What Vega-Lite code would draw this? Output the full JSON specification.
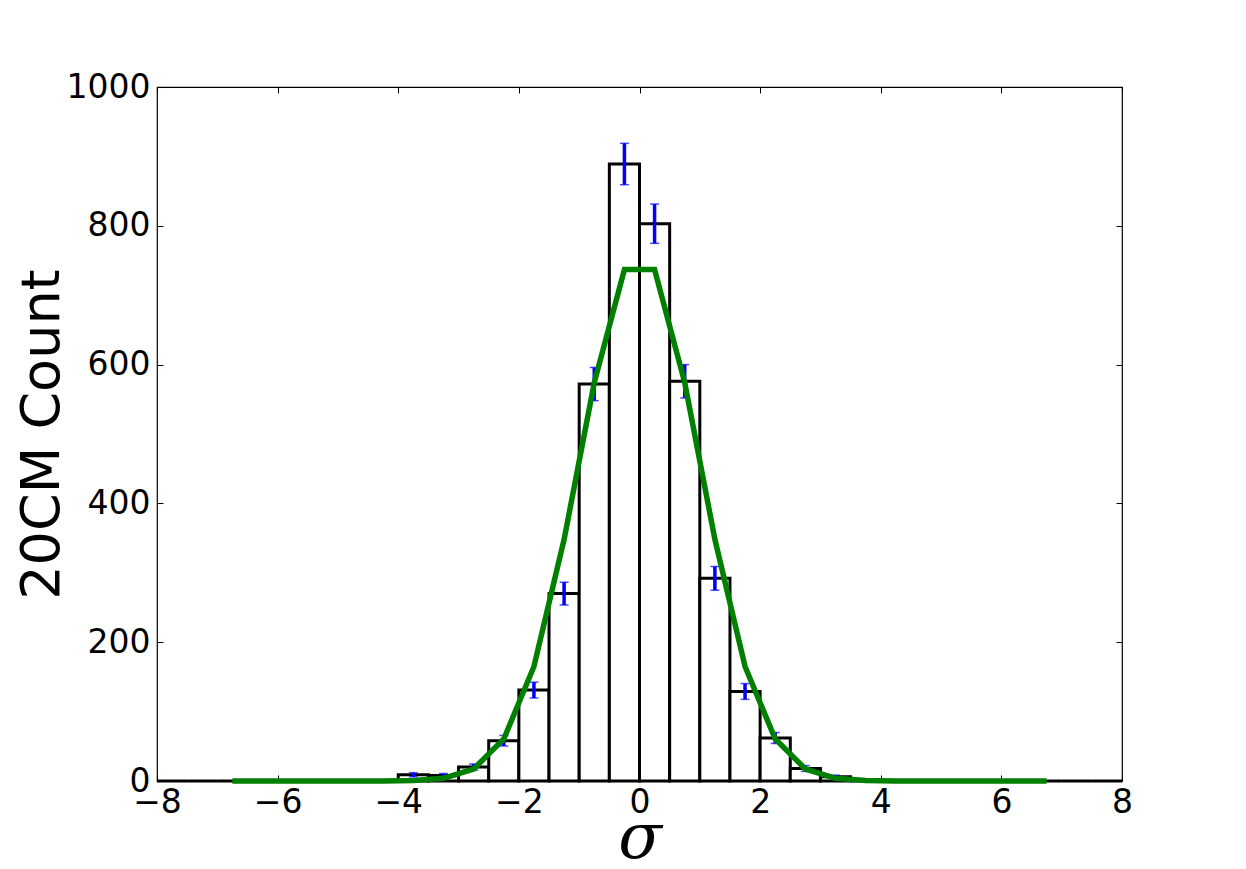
{
  "$schema": "https://vega.github.io/schema/vega-lite/v6.json",
  "width": 965,
  "height": 694,
  "autosize": "none",
  "padding": {"left": 157, "top": 87, "right": 124, "bottom": 88},
  "background": "white",
  "config": {
    "view": {"stroke": "black", "strokeWidth": 1.2},
    "axis": {"grid": false, "domain": false, "tickColor": "black", "tickWidth": 1, "labelColor": "black", "titleColor": "black"}
  },
  "datasets": {
    "bins": [
      {"start": -8.0, "end": -7.5, "count": 0},
      {"start": -7.5, "end": -7.0, "count": 0},
      {"start": -7.0, "end": -6.5, "count": 0},
      {"start": -6.5, "end": -6.0, "count": 0},
      {"start": -6.0, "end": -5.5, "count": 0},
      {"start": -5.5, "end": -5.0, "count": 0},
      {"start": -5.0, "end": -4.5, "count": 0},
      {"start": -4.5, "end": -4.0, "count": 0},
      {"start": -4.0, "end": -3.5, "count": 9},
      {"start": -3.5, "end": -3.0, "count": 8},
      {"start": -3.0, "end": -2.5, "count": 20},
      {"start": -2.5, "end": -2.0, "count": 58},
      {"start": -2.0, "end": -1.5, "count": 131},
      {"start": -1.5, "end": -1.0, "count": 270},
      {"start": -1.0, "end": -0.5, "count": 572},
      {"start": -0.5, "end": 0.0, "count": 889},
      {"start": 0.0, "end": 0.5, "count": 803},
      {"start": 0.5, "end": 1.0, "count": 576},
      {"start": 1.0, "end": 1.5, "count": 292},
      {"start": 1.5, "end": 2.0, "count": 129},
      {"start": 2.0, "end": 2.5, "count": 62},
      {"start": 2.5, "end": 3.0, "count": 18},
      {"start": 3.0, "end": 3.5, "count": 6},
      {"start": 3.5, "end": 4.0, "count": 0},
      {"start": 4.0, "end": 4.5, "count": 0},
      {"start": 4.5, "end": 5.0, "count": 0},
      {"start": 5.0, "end": 5.5, "count": 0},
      {"start": 5.5, "end": 6.0, "count": 0},
      {"start": 6.0, "end": 6.5, "count": 0},
      {"start": 6.5, "end": 7.0, "count": 0},
      {"start": 7.0, "end": 7.5, "count": 0},
      {"start": 7.5, "end": 8.0, "count": 0}
    ],
    "errors": [
      {"center": -3.75, "lo": 6.0, "hi": 12.0},
      {"center": -3.25, "lo": 5.2, "hi": 10.8},
      {"center": -2.75, "lo": 15.5, "hi": 24.5},
      {"center": -2.25, "lo": 50.4, "hi": 65.6},
      {"center": -1.75, "lo": 119.6, "hi": 142.4},
      {"center": -1.25, "lo": 253.6, "hi": 286.4},
      {"center": -0.75, "lo": 548.1, "hi": 595.9},
      {"center": -0.25, "lo": 859.2, "hi": 918.8},
      {"center": 0.25, "lo": 774.7, "hi": 831.3},
      {"center": 0.75, "lo": 552.0, "hi": 600.0},
      {"center": 1.25, "lo": 274.9, "hi": 309.1},
      {"center": 1.75, "lo": 117.6, "hi": 140.4},
      {"center": 2.25, "lo": 54.1, "hi": 69.9},
      {"center": 2.75, "lo": 13.8, "hi": 22.2},
      {"center": 3.25, "lo": 3.6, "hi": 8.4}
    ],
    "fit": [
      {"x": -6.75, "y": 0},
      {"x": -6.25, "y": 0},
      {"x": -5.75, "y": 0},
      {"x": -5.25, "y": 0},
      {"x": -4.75, "y": 0.01},
      {"x": -4.25, "y": 0.09},
      {"x": -3.75, "y": 0.67},
      {"x": -3.25, "y": 3.9},
      {"x": -2.75, "y": 17.3},
      {"x": -2.25, "y": 60.5},
      {"x": -1.75, "y": 165},
      {"x": -1.25, "y": 348.1},
      {"x": -0.75, "y": 574.0},
      {"x": -0.25, "y": 737.0},
      {"x": 0.25, "y": 737.0},
      {"x": 0.75, "y": 574.0},
      {"x": 1.25, "y": 348.1},
      {"x": 1.75, "y": 165},
      {"x": 2.25, "y": 60.5},
      {"x": 2.75, "y": 17.3},
      {"x": 3.25, "y": 3.9},
      {"x": 3.75, "y": 0.67},
      {"x": 4.25, "y": 0.09},
      {"x": 4.75, "y": 0.01},
      {"x": 5.25, "y": 0},
      {"x": 5.75, "y": 0},
      {"x": 6.25, "y": 0},
      {"x": 6.75, "y": 0}
    ]
  },
  "layer": [
    {
      "data": {"name": "bins"},
      "mark": {"type": "rect", "fill": "white", "stroke": "black", "strokeWidth": 3},
      "encoding": {
        "x": {
          "field": "start", "type": "quantitative",
          "scale": {"domain": [-8, 8], "nice": false, "zero": false},
          "axis": {
            "orient": "bottom", "values": [-8, -6, -4, -2, 0, 2, 4, 6, 8], "format": "d",
            "labelExpr": "replace(datum.label, '-', '\u2212')",
            "labelFont": "DejaVu Sans", "labelFontSize": 33, "labelPadding": 11,
            "labelFlush": false, "labelOverlap": false, "tickSize": -6,
            "title": "σ", "titleFont": "DejaVu Serif", "titleFontStyle": "italic", "titleFontWeight": "normal",
            "titleFontSize": 64, "titleX": 482.5, "titleY": 76, "titleAlign": "center", "titleBaseline": "alphabetic"
          }
        },
        "x2": {"field": "end"},
        "y": {
          "field": "count", "type": "quantitative",
          "scale": {"domain": [0, 1000], "nice": false},
          "axis": {
            "orient": "left", "values": [0, 200, 400, 600, 800, 1000], "format": "d",
            "labelFont": "DejaVu Sans", "labelFontSize": 33, "labelPadding": 13,
            "labelFlush": false, "labelOverlap": false, "tickSize": -6,
            "title": "20CM Count", "titleFont": "DejaVu Sans", "titleFontWeight": "normal", "titleFontSize": 54,
            "titleAngle": -90, "titleX": -115, "titleY": 347, "titleAlign": "center", "titleBaseline": "middle"
          }
        },
        "y2": {"datum": 0}
      }
    },
    {
      "data": {"name": "errors"},
      "mark": {"type": "errorbar", "color": "#0000ff", "thickness": 3.5, "ticks": {"size": 9, "thickness": 1.5}},
      "encoding": {
        "x": {"field": "center", "type": "quantitative", "scale": {"domain": [-8, 8], "nice": false, "zero": false}, "axis": null},
        "y": {"field": "lo", "type": "quantitative", "scale": {"domain": [0, 1000], "nice": false}, "axis": null},
        "y2": {"field": "hi"}
      }
    },
    {
      "data": {"name": "fit"},
      "mark": {"type": "line", "color": "#008000", "strokeWidth": 5.5},
      "encoding": {
        "x": {
          "field": "x", "type": "quantitative",
          "scale": {"domain": [-8, 8], "nice": false, "zero": false},
          "axis": {"orient": "top", "values": [-8, -6, -4, -2, 0, 2, 4, 6, 8], "labels": false, "tickSize": -6, "title": null}
        },
        "y": {
          "field": "y", "type": "quantitative",
          "scale": {"domain": [0, 1000], "nice": false},
          "axis": {"orient": "right", "values": [0, 200, 400, 600, 800, 1000], "labels": false, "tickSize": -6, "title": null}
        }
      }
    }
  ],
  "resolve": {"axis": {"x": "independent", "y": "independent"}}
}
